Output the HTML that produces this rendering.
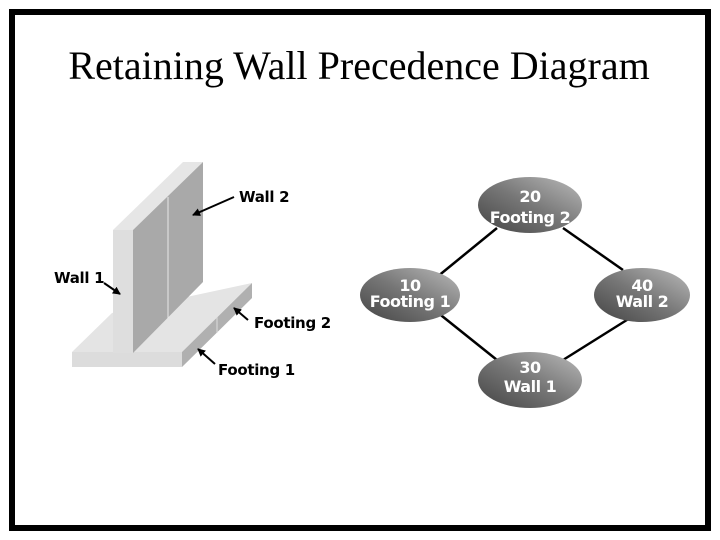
<!DOCTYPE html>
<html><head><style>
body{margin:0;width:720px;height:540px;background:#fff;overflow:hidden}
svg{display:block}
.l{font-family:"DejaVu Sans","Liberation Sans",sans-serif;font-weight:bold;font-size:15px;letter-spacing:-0.3px}
.n{font-family:"DejaVu Sans","Liberation Sans",sans-serif;font-weight:bold;font-size:16px;fill:#fff;letter-spacing:-0.5px}
</style></head><body>
<svg width="720" height="540" viewBox="0 0 720 540">
<defs>
<linearGradient id="g" x1="0" y1="1" x2="1" y2="0">
<stop offset="0" stop-color="#444"/><stop offset="0.5" stop-color="#777"/><stop offset="1" stop-color="#bbb"/>
</linearGradient>
<marker id="a" markerWidth="8" markerHeight="8" refX="7" refY="4" orient="auto" markerUnits="userSpaceOnUse"><path d="M0,0L8,4L0,8z" fill="#000"/></marker>
</defs>
<rect x="12" y="12" width="696" height="516" fill="none" stroke="#000" stroke-width="6"/>
<text x="359" y="79" text-anchor="middle" font-family="Liberation Serif,serif" font-size="40">Retaining Wall Precedence Diagram</text>
<!-- footing -->
<polygon points="72,352 112,313 252,283 182,352" fill="#e4e4e4"/>
<polygon points="72,352 182,352 182,367 72,367" fill="#dcdcdc"/>
<polygon points="182,352 252,283 252,298 182,367" fill="#b0b0b0"/>
<line x1="217" y1="317" x2="217" y2="333" stroke="#ddd"/>
<!-- wall -->
<polygon points="113,230 133,230 203,162 183,162" fill="#e6e6e6"/>
<polygon points="113,230 133,230 133,353 113,353" fill="#dedede"/>
<polygon points="133,230 203,162 203,282 133,353" fill="#a9a9a9"/>
<line x1="168" y1="197" x2="168" y2="318" stroke="#e8e8e8"/>
<!-- labels -->
<text class="l" x="239" y="202">Wall 2</text>
<line x1="234" y1="197" x2="193" y2="215" stroke="#000" stroke-width="2" marker-end="url(#a)"/>
<text class="l" x="54" y="283">Wall 1</text>
<line x1="104" y1="283" x2="120" y2="294" stroke="#000" stroke-width="2" marker-end="url(#a)"/>
<text class="l" x="254" y="328">Footing 2</text>
<line x1="248" y1="320" x2="234" y2="308" stroke="#000" stroke-width="2" marker-end="url(#a)"/>
<text class="l" x="218" y="375">Footing 1</text>
<line x1="215" y1="364" x2="198" y2="349" stroke="#000" stroke-width="2" marker-end="url(#a)"/>
<!-- network -->
<g stroke="#000" stroke-width="2.5">
<line x1="437" y1="277" x2="497" y2="228"/>
<line x1="563" y1="228" x2="623" y2="270"/>
<line x1="437" y1="312" x2="497" y2="360"/>
<line x1="563" y1="360" x2="630" y2="318"/>
</g>
<ellipse cx="530" cy="205" rx="52" ry="28" fill="url(#g)"/>
<ellipse cx="410" cy="295" rx="50" ry="27" fill="url(#g)"/>
<ellipse cx="642" cy="295" rx="48" ry="27" fill="url(#g)"/>
<ellipse cx="530" cy="380" rx="52" ry="28" fill="url(#g)"/>
<text class="n" x="530" y="202" text-anchor="middle">20</text>
<text class="n" x="530" y="223" text-anchor="middle">Footing 2</text>
<text class="n" x="410" y="291" text-anchor="middle">10</text>
<text class="n" x="410" y="307" text-anchor="middle">Footing 1</text>
<text class="n" x="642" y="291" text-anchor="middle">40</text>
<text class="n" x="642" y="307" text-anchor="middle">Wall 2</text>
<text class="n" x="530" y="373" text-anchor="middle">30</text>
<text class="n" x="530" y="392" text-anchor="middle">Wall 1</text>
</svg>
</body></html>
